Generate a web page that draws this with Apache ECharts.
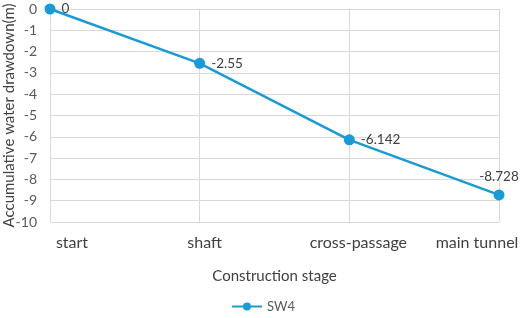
<!DOCTYPE html>
<html><head><meta charset="utf-8">
<script src="https://cdn.jsdelivr.net/npm/echarts@6/dist/echarts.min.js"></script>
<style>html,body{margin:0;padding:0;background:#fff}#c{width:526px;height:318px}</style>
</head><body><div id="c"></div>
<script>
const categories = ['start', 'shaft', 'cross-passage', 'main tunnel'];
const sw4 = [0, -2.55, -6.142, -8.728];
const labelShift = [44, 10, 18, -44];
const FONT = 'Lato';
const chart = echarts.init(document.getElementById('c'));
const rich = {};
categories.forEach((c, i) => {
  const p = labelShift[i];
  rich['l' + i] = {fontFamily: FONT, fontSize: 16, color: '#404040',
    padding: p >= 0 ? [0, 0, 0, p] : [0, -p, 0, 0]};
});
chart.setOption({
  animation: false,
  grid: {left: 50, right: 27, top: 9, bottom: 96, containLabel: false, outerBoundsMode: 'none'},
  legend: {bottom: 0, left: 'center', itemWidth: 30, itemHeight: 10,
    textStyle: {fontFamily: FONT, fontSize: 13, color: '#595959'}, data: ['SW4']},
  xAxis: {
    type: 'category', data: categories, boundaryGap: false,
    name: 'Construction stage', nameLocation: 'middle', nameGap: 47, nameMoveOverlap: false,
    nameTextStyle: {fontFamily: FONT, fontSize: 15, color: '#404040'},
    axisLine: {show: true, lineStyle: {color: '#d9d9d9'}},
    axisTick: {show: false},
    splitLine: {show: true, lineStyle: {color: '#d9d9d9'}},
    axisLabel: {margin: 13, interval: 0,
      formatter: (v, i) => '{l' + i + '|' + v + '}', rich: rich}
  },
  yAxis: {
    type: 'value', min: -10, max: 0, interval: 1,
    name: 'Accumulative water drawdown(m)', nameLocation: 'middle', nameGap: 33, nameMoveOverlap: false,
    nameTextStyle: {fontFamily: FONT, fontSize: 15, color: '#404040'},
    axisLine: {show: false}, axisTick: {show: false},
    splitLine: {lineStyle: {color: '#d9d9d9'}},
    axisLabel: {fontFamily: FONT, fontSize: 14, color: '#595959', margin: 13}
  },
  series: [{
    name: 'SW4', type: 'line', data: sw4.map((v, i) => ({value: v,
      label: {position: i === sw4.length - 1 ? 'top' : 'right'}})),
    symbol: 'circle', symbolSize: 11,
    lineStyle: {color: '#1a9ad6', width: 2.5},
    itemStyle: {color: '#1a9ad6'},
    label: {show: true, fontFamily: FONT, fontSize: 13.5, color: '#404040', distance: 6}
  }]
});
</script></body></html>
